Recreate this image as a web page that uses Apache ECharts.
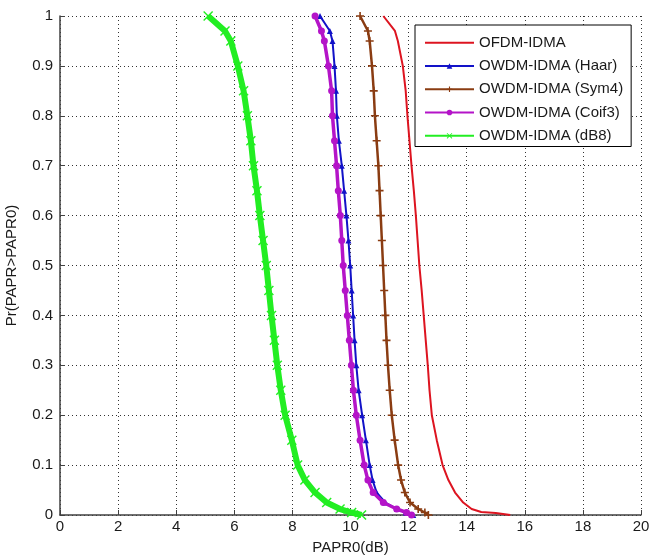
<!DOCTYPE html>
<html>
<head>
<meta charset="utf-8">
<script src="https://cdn.jsdelivr.net/npm/echarts@6/dist/echarts.min.js"></script>
<style>
html,body{margin:0;padding:0;background:#fff;}
#chart{width:650px;height:558px;}
</style>
</head>
<body>
<div id="chart"></div>
<script>
// Probability levels (y values) shared by the OWDM curves
const levels = [1, 0.97, 0.95, 0.9, 0.85, 0.8, 0.75, 0.7, 0.65, 0.6, 0.55, 0.5, 0.45, 0.4, 0.35, 0.3, 0.25, 0.2, 0.15, 0.1, 0.07, 0.045, 0.025, 0.012, 0.005, 0];
// OFDM curve probability levels
const ofdmLevels = [1, 0.97, 0.95, 0.9, 0.85, 0.8, 0.75, 0.7, 0.65, 0.6, 0.55, 0.5, 0.45, 0.4, 0.35, 0.3, 0.25, 0.2, 0.15, 0.1, 0.07, 0.045, 0.025, 0.012, 0.006, 0.004, 0];

// PAPR0 (dB) values
const ofdmPapr  = [11.13, 11.53, 11.63, 11.80, 11.90, 11.96, 12.03, 12.10, 12.18, 12.25, 12.31, 12.37, 12.45, 12.52, 12.59, 12.66, 12.72, 12.80, 12.97, 13.17, 13.37, 13.60, 13.88, 14.17, 14.50, 15.00, 15.50];
const haarPapr  = [8.95, 9.29, 9.38, 9.45, 9.50, 9.53, 9.60, 9.70, 9.78, 9.86, 9.93, 9.99, 10.04, 10.09, 10.14, 10.20, 10.28, 10.40, 10.53, 10.66, 10.76, 10.90, 11.20, 11.60, 11.90, 12.16];
const sym4Papr  = [10.33, 10.60, 10.66, 10.74, 10.80, 10.84, 10.90, 10.96, 11.00, 11.04, 11.08, 11.12, 11.16, 11.20, 11.24, 11.29, 11.35, 11.42, 11.52, 11.64, 11.74, 11.87, 12.05, 12.33, 12.56, 12.68];
const coif3Papr = [8.78, 9.00, 9.10, 9.24, 9.35, 9.38, 9.45, 9.52, 9.58, 9.65, 9.70, 9.75, 9.82, 9.89, 9.96, 10.03, 10.10, 10.20, 10.33, 10.47, 10.60, 10.78, 11.13, 11.59, 11.93, 12.10];
const db8Papr   = [5.10, 5.68, 5.88, 6.12, 6.32, 6.45, 6.57, 6.66, 6.78, 6.88, 6.99, 7.10, 7.19, 7.28, 7.38, 7.48, 7.60, 7.75, 7.98, 8.18, 8.43, 8.78, 9.18, 9.64, 10.04, 10.38];

const seriesNames = ['OFDM-IDMA', 'OWDM-IDMA (Haar)', 'OWDM-IDMA (Sym4)', 'OWDM-IDMA (Coif3)', 'OWDM-IDMA (dB8)'];
const xTicks = [0, 2, 4, 6, 8, 10, 12, 14, 16, 18, 20];

function pairs(xs, ys) { return xs.map((x, i) => [x, ys[i]]); }

const FONT = '"Liberation Sans", Arial, sans-serif';
const TXT = '#1a1a1a';

const plusPath = 'path://M4,0H6V4H10V6H6V10H4V6H0V4H4Z';
const xPath = 'path://M1,0L5,4L9,0L10,1L6,5L10,9L9,10L5,6L1,10L0,9L4,5L0,1Z';

const chart = echarts.init(document.getElementById('chart'), null, {renderer: 'canvas'});
chart.setOption({
  animation: false,
  backgroundColor: '#fff',
  textStyle: {fontFamily: FONT},
  grid: {left: 60, right: 9, top: 16, bottom: 43, containLabel: false, outerBoundsMode: 'none'},
  legend: {
    orient: 'vertical',
    left: 415, top: 25,
    backgroundColor: '#fff',
    borderColor: '#000', borderWidth: 1,
    padding: [9, 8, 2, 9],
    itemWidth: 49, itemHeight: 7, itemGap: 6,
    textStyle: {fontFamily: FONT, fontSize: 15, color: TXT, lineHeight: 17.3},
    data: [
      {name: seriesNames[0], itemStyle: {opacity: 0}},
      seriesNames[1], seriesNames[2], seriesNames[3], seriesNames[4]
    ]
  },
  xAxis: {
    type: 'value', min: 0, max: 20, interval: 2,
    name: 'PAPR0(dB)', nameLocation: 'middle', nameGap: 25,
    nameTextStyle: {fontFamily: FONT, fontSize: 15, color: TXT},
    axisLine: {show: true, lineStyle: {color: '#404040', width: 1.5}},
    axisTick: {show: true, inside: true, length: 5, lineStyle: {color: '#404040'}},
    axisLabel: {fontFamily: FONT, fontSize: 15, color: TXT, margin: 4,
      customValues: xTicks},
    splitLine: {show: true, lineStyle: {color: '#333', type: [1, 3], width: 1}}
  },
  yAxis: {
    type: 'value', min: 0, max: 1, interval: 0.1,
    name: 'Pr(PAPR>PAPR0)', nameLocation: 'middle', nameGap: 41,
    nameTextStyle: {fontFamily: FONT, fontSize: 15, color: TXT},
    axisLine: {show: true, lineStyle: {color: '#404040', width: 1.5}},
    axisTick: {show: true, inside: true, length: 5, lineStyle: {color: '#404040'}},
    axisLabel: {fontFamily: FONT, fontSize: 15, color: TXT, margin: 7},
    splitLine: {show: true, lineStyle: {color: '#333', type: [1, 3], width: 1}}
  },
  series: [
    {name: seriesNames[0], type: 'line', data: pairs(ofdmPapr, ofdmLevels),
     symbol: 'none', lineStyle: {color: '#dd1420', width: 2}, itemStyle: {color: '#dd1420'}, z: 2},
    {name: seriesNames[1], type: 'line', data: pairs(haarPapr, levels),
     symbol: 'triangle', symbolSize: 6, lineStyle: {color: '#1212c8', width: 2}, itemStyle: {color: '#1212c8'}, z: 3},
    {name: seriesNames[2], type: 'line', data: pairs(sym4Papr, levels),
     symbol: plusPath, symbolSize: 8, lineStyle: {color: '#8a3c12', width: 2.5}, itemStyle: {color: '#8a3c12'}, z: 3},
    {name: seriesNames[3], type: 'line', data: pairs(coif3Papr, levels),
     symbol: 'circle', symbolSize: 7, lineStyle: {color: '#b414c8', width: 3.5}, itemStyle: {color: '#b414c8'}, z: 4},
    {name: seriesNames[4], type: 'line', data: pairs(db8Papr, levels),
     symbol: xPath, symbolSize: 10, lineStyle: {color: '#22ee22', width: 6}, itemStyle: {color: '#22ee22'}, z: 4}
  ]
});
</script>
</body>
</html>
